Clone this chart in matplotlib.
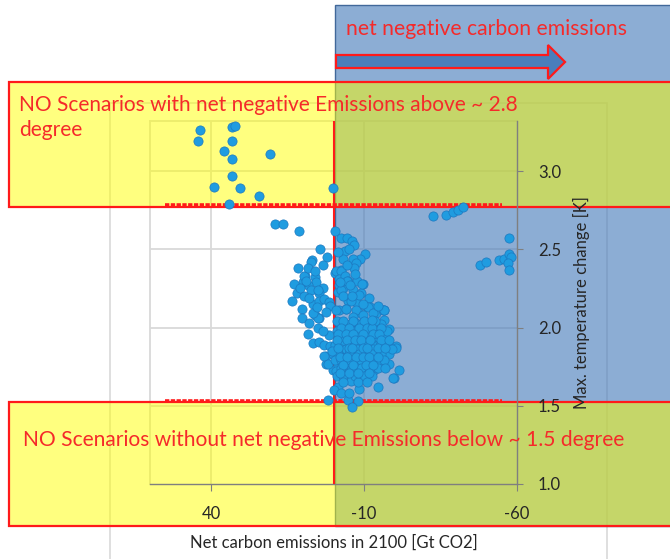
import matplotlib
matplotlib.use("Agg")
import matplotlib.pyplot as plt
from matplotlib.colors import to_rgba
from matplotlib.patches import Rectangle, Polygon

plt.rcParams['font.family'] = ['Lato', 'DejaVu Sans']
plt.rcParams['axes.unicode_minus'] = False

# scenario results: net carbon emissions in 2100 [Gt CO2] vs. max. temperature change [K]
emis_high = [43.6, 33.1, 32.2, 44.4, 33.3, 35.9, 33.1, 20.7, 33.1, 39.2, 30.7, 24.2, 0.3, 34.2,
             19.0, 16.4, 11.4]
temp_high = [3.26, 3.28, 3.29, 3.19, 3.19, 3.13, 3.08, 3.11, 2.97, 2.90, 2.89, 2.84, 2.89, 2.79,
             2.66, 2.66, 2.62]

emis_neg = [-32.4, -36.8, -39.2, -40.6, -42.2,
            -57.3, -47.9, -49.9, -54.2, -55.9, -57.5, -58.0, -56.9, -57.5]
temp_neg = [2.71, 2.72, 2.74, 2.75, 2.77,
            2.57, 2.40, 2.42, 2.43, 2.44, 2.47, 2.45, 2.41, 2.37]

emis_main = [-0.6, -2.3, -4.3, -6.1, -6.8, -3.6, -5.2, 4.4, -10.4, -8.7, -6.3, -7.4, -6.8, 7.0,
             7.3, 2.2, 3.5, -0.6, -2.3,
             9.2, 6.2, 5.7, 8.4, 10.1, 12.9, 3.5, 4.6, 7.3, 13.5, 10.3, 6.8, 4.6, 3.0, 1.6,
             9.8, 8.9, 5.2, 10.4, 6.2, 4.6, 5.2, 8.4, 6.8, 4.6, 3.0, 1.3, 2.4, 2.4, 0.3, 5.2,
             6.8, 1.3,
             -0.8, -2.5, -1.7, -3.6, -4.6, -7.6, -9.5, -3.0, -1.4, -6.3, -9.0, -4.6, -7.4, -10.7,
             -4.1, -7.9, -13.9, -1.9, -5.8, -8.5, -11.7, -12.0, -16.6, -1.9, -2.5, -4.3, -9.3,
             -0.8, -4.1, -7.4, -11.2, -16.1, -6.3, -9.5, -12.8, -16.6, -7.4, -11.7, -15.0, -5.2,
             -8.5, -12.3, -16.1, -3.6, -6.8, -10.6, -13.9, -17.7, -20.4, -1.9, -5.7, -9.0, -11.7,
             -15.5, -18.3, 0.3, -3.0, -6.8, -10.6, -13.9, 3.0, 1.9, -1.4, -4.6, -7.9, -11.7,
             -15.0, -18.3, -0.8, -4.1, -7.4, -10.6, -13.4, -21.5, -19.9, -5.7, -8.5, -14.4, -1.4,
             -0.3, 1.9, -4.6, -7.9, -6.1,
             -16.4, -18.0, -20.5, -19.6,
             -2.0, -5.5, -9.0, -13.0, -15.5, -1.0, -3.5, -7.0, -10.0, -14.0, -17.5, -2.5, -5.0,
             -8.0, -11.5, -14.5, -0.5, -3.0, -7.5, -12.5, -16.5, -2.5, -4.0, -7.7, -10.5, -13.0,
             -19.0, -1.5, -5.0, -8.5, -12.5, -15.5, -0.5, -2.5, -5.5, -9.0, -12.0, -16.5, -2.5,
             -6.0, -9.0, -12.0, -14.5, -17.0, -1.0, -3.0, -7.0, -10.0, -12.5, -3.0, -8.0, -11.0,
             -2.5, -5.0, 1.5, 0.5]
temp_main = [2.62, 2.57, 2.57, 2.55, 2.53, 2.49, 2.50, 2.50, 2.47, 2.44, 2.44, 2.41, 2.38, 2.43,
             2.42, 2.45, 2.40, 2.35, 2.37,
             2.33, 2.32, 2.29, 2.27, 2.29, 2.28, 2.25, 2.22, 2.24, 2.17, 2.12, 2.15, 2.17, 2.18, 2.16,
             2.33, 2.30, 2.24, 2.06, 2.08, 2.06, 2.00, 1.96, 1.90, 1.91, 1.89, 1.88, 1.82, 1.77, 1.73, 2.06,
             2.09, 2.14,
             2.36, 2.36, 2.31, 2.33, 2.30, 2.30, 2.28, 2.25, 2.23, 2.24, 2.22, 2.17, 2.16, 2.14,
             2.12, 2.10, 2.09, 2.11, 2.17, 2.21, 2.19, 2.13, 2.11, 2.27, 2.24, 2.30, 2.28,
             2.11, 2.12, 2.11, 2.13, 2.11, 2.07, 2.08, 2.09, 2.05, 2.03, 2.01, 1.99, 1.97,
             1.96, 1.96, 1.95, 1.93, 1.91, 1.92, 1.91, 1.90, 1.88, 1.88, 1.85, 1.87, 1.85,
             1.85, 1.83, 1.83, 1.81, 1.80, 1.81, 1.80, 1.82, 1.77, 1.76, 1.76, 1.76, 1.77,
             1.76, 1.77, 1.72, 1.71, 1.72, 1.72, 1.73, 1.73, 1.68, 1.66, 1.61, 1.62, 1.62,
             1.60, 1.54, 1.54, 1.53, 1.49,
             2.11, 1.99, 1.87, 1.68,
             2.02, 2.02, 2.02, 2.02, 2.02, 1.98, 1.98, 1.98, 1.98, 1.98, 1.98, 1.94, 1.94,
             1.94, 1.94, 1.94, 1.89, 1.89, 1.89, 1.89, 1.89, 1.86, 1.86, 1.86, 1.86, 1.86,
             1.86, 1.83, 1.83, 1.83, 1.83, 1.83, 1.79, 1.79, 1.79, 1.79, 1.79, 1.79, 1.74,
             1.74, 1.74, 1.74, 1.74, 1.74, 1.69, 1.69, 1.69, 1.69, 1.69, 1.65, 1.65, 1.65,
             1.58, 1.58, 1.95, 1.85]

# densest part of the cloud
emis_core = [-1.0, -3.0, -6.5, -10.0, -13.5, -2.5, -5.0, -8.5, -11.0, -12.5, -15.5,
             -1.5, -4.0, -6.5, -9.5, -13.0, -15.0, -1.0, -4.5, -7.0, -9.0, -12.0, -15.5, -18.0,
             -1.5, -5.0, -6.0, -9.5, -11.0, -14.5, -17.0, -2.0, -4.5, -7.5, -9.5, -11.5, -14.5,
             -3.0, -6.5, -10.5, -13.0, -2.0, -5.0, -8.0, -11.5]
temp_core = [2.04, 2.04, 2.04, 2.04, 2.04, 2.00, 2.00, 2.00, 2.00, 2.00, 2.00,
             1.96, 1.96, 1.96, 1.96, 1.96, 1.96, 1.92, 1.92, 1.92, 1.92, 1.92, 1.92, 1.92,
             1.87, 1.87, 1.87, 1.87, 1.87, 1.87, 1.87, 1.81, 1.81, 1.81, 1.81, 1.81, 1.81,
             1.76, 1.76, 1.76, 1.76, 1.71, 1.71, 1.71, 1.71]

emis_side = [11.5, 8.5, 6.0, 12.0, 9.5, 8.0, 11.0, 5.5, 2.5, 8.0, 3.5,
             -3.0, -1.5, -4.5, -2.0, -5.5, -7.0, -3.0, -6.0, -9.5, -14.5, -12.5]
temp_side = [2.38, 2.38, 2.36, 2.22, 2.20, 2.19, 2.25, 2.13, 2.10, 2.03, 1.98,
             2.44, 2.48, 2.40, 2.29, 2.27, 2.34, 2.20, 2.20, 2.15, 2.14, 2.05]

x_ticks = [40, -10, -60]
y_ticks = [1.0, 1.5, 2.0, 2.5, 3.0]
upper_limit = 2.78   # no net negative scenario above this
lower_limit = 1.53   # no scenario without net negative emissions below this

RED = '#f52a2a'
W, H = 670, 559


def fx(px):
    return px / W


def fy(py):
    return 1 - py / H


fig = plt.figure(figsize=(6.7, 5.59), dpi=100)
ax = fig.add_axes([fx(150), fy(484), (517 - 150) / W, (484 - 121) / H])

ax.set_xlim(60, -60)
ax.set_ylim(1.0, 3.32)
ax.set_xticks(x_ticks)
ax.set_yticks(y_ticks)
ax.set_yticklabels(['%.1f' % v for v in y_ticks])

for v in x_ticks[:-1]:
    ax.axvline(v, color='#d9d9d9', lw=1.3, zorder=0.6)
for v in y_ticks[1:]:
    ax.axhline(v, color='#d9d9d9', lw=1.3, zorder=0.6)

for s in ['left', 'top']:
    ax.spines[s].set_color('#d9d9d9')
    ax.spines[s].set_linewidth(1.3)
for s in ['bottom', 'right']:
    ax.spines[s].set_color('#7f7f7f')
    ax.spines[s].set_linewidth(1.0)
ax.spines['left'].set_zorder(0.6)
ax.spines['top'].set_zorder(0.6)

ax.yaxis.tick_right()
ax.tick_params(axis='y', direction='out', length=4, pad=11, labelsize=12,
               color='#7f7f7f', labelcolor='#262626')
ax.tick_params(axis='x', direction='out', length=5, pad=11, labelsize=12,
               color='#7f7f7f', labelcolor='#262626')

ax.set_xlabel('Net carbon emissions in 2100 [Gt CO2]', fontsize=12, color='#262626', va='center')
ax.xaxis.set_label_coords(0.5, -(543 - 484) / 363)
ax.yaxis.set_label_position('right')
ax.set_ylabel('Max. temperature change [K]', fontsize=12, color='#262626', rotation=90)
ax.yaxis.label.set_verticalalignment('center')
ax.yaxis.label.set_horizontalalignment('center')
ax.yaxis.set_label_coords(1 + (581 - 517) / 367, 0.5)

# outer chart frame
ax.add_patch(Rectangle((fx(110), fy(565)), fx(607) - fx(110), fy(103) - fy(565),
                       transform=fig.transFigure, clip_on=False, fill=False,
                       edgecolor='#d9d9d9', lw=1.2, zorder=0.5))

# net negative region
ax.add_patch(Rectangle((fx(335), fy(526)), fx(700) - fx(335), fy(5) - fy(526),
                       transform=fig.transFigure, clip_on=False,
                       facecolor=to_rgba('#4f81bd', 0.65), edgecolor='#41689a', lw=1.0, zorder=1))

# the two "NO scenarios" boxes
for top, bot in [(82, 207), (402, 526)]:
    ax.add_patch(Rectangle((fx(8.5), fy(bot)), fx(680) - fx(8.5), fy(top) - fy(bot),
                           transform=fig.transFigure, clip_on=False,
                           facecolor=(1, 1, 0, 0.5), edgecolor='#ff1a1a', lw=1.6, zorder=1.2))

# arrow to the right
arrow_px = [(336, 55), (548, 55), (548, 45), (565, 62), (548, 79), (548, 68), (336, 68)]
ax.add_patch(Polygon([(fx(a), fy(b)) for a, b in arrow_px], closed=True,
                     transform=fig.transFigure, clip_on=False,
                     facecolor='#4a7ebb', edgecolor='#ff1a1a', lw=1.6, zorder=1.3))

xs = emis_high + emis_neg + emis_main + emis_core + emis_side
ys = temp_high + temp_neg + temp_main + temp_core + temp_side
ax.scatter(xs, ys, s=44, c='#1f9ce0', edgecolors='#1c78c0', linewidths=0.5, zorder=3)

ax.axvline(0, color='#ff1a1a', lw=1.5, zorder=2.8)
for lim in (upper_limit, lower_limit):
    ax.plot([55, -55], [lim, lim], color='#ff1a1a', lw=2.6, ls=(0, (1.2, 0.4)), zorder=2.9,
            solid_capstyle='butt')

ax.text(fx(346), fy(29), 'net negative carbon emissions', transform=fig.transFigure,
        ha='left', va='center', fontsize=15.2, color=RED, zorder=4)
ax.text(fx(19), fy(105), 'NO Scenarios with net negative Emissions above ~ 2.8',
        transform=fig.transFigure, ha='left', va='center', fontsize=15, color=RED, zorder=4)
ax.text(fx(19), fy(130), 'degree',
        transform=fig.transFigure, ha='left', va='center', fontsize=15, color=RED, zorder=4)
ax.text(fx(23), fy(440), 'NO Scenarios without net negative Emissions below ~ 1.5 degree',
        transform=fig.transFigure, ha='left', va='center', fontsize=15.1, color=RED, zorder=4)

fig.savefig('out.png', dpi=100)
